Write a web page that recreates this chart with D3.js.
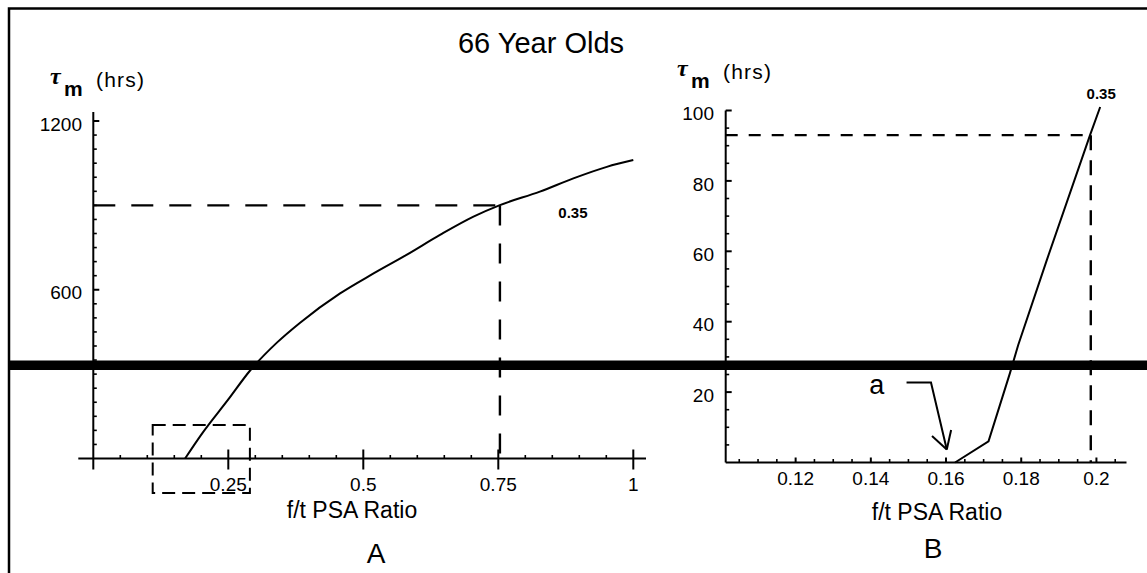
<!DOCTYPE html>
<html>
<head>
<meta charset="utf-8">
<script src="https://cdn.jsdelivr.net/npm/d3@7"></script>
<style>
  html, body { margin: 0; padding: 0; background: #fff; }
  svg { display: block; font-family: "Liberation Sans", Arial, Helvetica, sans-serif; }
</style>
</head>
<body>
<svg id="chart" width="1147" height="573"></svg>
<script>
// Panel A: tau_m (hrs) against f/t PSA ratio, full range
const ratioA = [0.17, 0.2, 0.25, 0.29, 0.34, 0.383, 0.457, 0.519, 0.58, 0.642, 0.704, 0.753, 0.827, 0.889, 0.951, 1.0];
const tauA = [0, 85, 210, 312, 412, 483, 587, 658, 724, 795, 860, 901, 949, 996, 1037, 1061];
const xTicksA = [0.25, 0.5, 0.75, 1];
const xTickLabelsA = ['0.25', '0.5', '0.75', '1'];
const yTicksA = [600, 1200];
const yTickLabelsA = ['600', '1200'];
const refA = [0.753, 900];              // dashed guide (ratio, tau)
const zoomBoxA = [0.11, 0.29, -123, 119]; // ratio0, ratio1, tau0, tau1

// Panel B: close-up of the low end
const ratioB = [0.1624, 0.1713, 0.177, 0.1792, 0.1868, 0.1983, 0.201];
const tauB = [0, 6, 25.4, 33.4, 57.5, 93, 101];
const xTicksB = [0.12, 0.14, 0.16, 0.18, 0.2];
const xTickLabelsB = ['0.12', '0.14', '0.16', '0.18', '0.2'];
const yTicksB = [20, 40, 60, 80, 100];
const yTickLabelsB = ['20', '40', '60', '80', '100'];
const refB = [0.1985, 93];
const arrowB = [[0.1495, 22.7], [0.156, 22.7], [0.1602, 3.7]];
const noteB = [0.1416, 21.8, 'a'];

const pointLabel = '0.35';

const svg = d3.select('#chart');

// scales
const xA = d3.scaleLinear().domain([0, 1]).range([93.3, 633.3]);
const yA = d3.scaleLinear().domain([0, 1200]).range([458.5, 121]);
const xB = d3.scaleLinear().domain([0.1014, 0.208]).range([725.7, 1126.5]);
const yB = d3.scaleLinear().domain([0, 100]).range([462.5, 110.5]);

// frame (only top and left edges show)
svg.append('path')
  .attr('d', 'M9,573V8.5H1147')
  .attr('fill', 'none')
  .attr('stroke', '#000')
  .attr('stroke-width', 2.5);

// title
svg.append('text')
  .attr('x', 541)
  .attr('y', 53)
  .attr('text-anchor', 'middle')
  .attr('font-size', '29px')
  .text('66 Year Olds');

// y label: tau_m (hrs)
function tauLabel(x, yc) {
  const g = svg.append('g');
  g.append('text')
    .attr('x', x).attr('y', yc + 4)
    .attr('font-family', '"Liberation Serif", "Times New Roman", serif')
    .attr('font-style', 'italic').attr('font-weight', 'bold')
    .attr('font-size', '24px')
    .text('\u03C4');
  g.append('text')
    .attr('x', x + 14).attr('y', yc + 16)
    .attr('font-weight', 'bold')
    .attr('font-size', '21px')
    .text('m');
  g.append('text')
    .attr('x', x + 46).attr('y', yc + 7)
    .attr('font-size', '21px')
    .attr('textLength', 48)
    .text('(hrs)');
}
tauLabel(50, 80);
tauLabel(677, 72);

// axes, Mathematica style (ticks point inward, axes overshoot)
function drawAxes(x, y, o) {
  const g = svg.append('g').attr('stroke', '#000');
  const x0 = x.range()[0], y0 = y(0);
  g.append('line').attr('x1', x0 - o.leftOver).attr('x2', o.xEnd)
    .attr('y1', y0).attr('y2', y0).attr('stroke-width', 2);
  g.append('line').attr('x1', x0).attr('x2', x0)
    .attr('y1', y0 + o.downOver).attr('y2', o.yTop).attr('stroke-width', 2);

  // minor ticks
  o.xMinor.forEach(v => {
    g.append('line').attr('x1', x(v)).attr('x2', x(v))
      .attr('y1', y0).attr('y2', y0 - 3.5).attr('stroke-width', 1.6);
  });
  o.yMinor.forEach(v => {
    g.append('line').attr('x1', x0).attr('x2', x0 + 3.5)
      .attr('y1', y(v)).attr('y2', y(v)).attr('stroke-width', 1.6);
  });
  // major ticks
  o.xTicks.forEach(v => {
    g.append('line').attr('x1', x(v)).attr('x2', x(v))
      .attr('y1', y0 - o.xMajUp).attr('y2', y0 + o.xMajDown).attr('stroke-width', 2);
  });
  o.yTicks.forEach(v => {
    g.append('line').attr('x1', x0).attr('x2', x0 + 6)
      .attr('y1', y(v)).attr('y2', y(v)).attr('stroke-width', 2);
  });

  // tick labels
  svg.append('g').selectAll('text').data(o.xTicks).join('text')
    .attr('x', d => x(d))
    .attr('y', y0 + o.xLabOff)
    .attr('text-anchor', 'middle')
    .attr('font-size', o.fs)
    .text((d, i) => o.xLabels[i]);
  svg.append('g').selectAll('text').data(o.yTicks).join('text')
    .attr('x', o.yLabX)
    .attr('y', d => y(d) + 3)
    .attr('dy', '0.35em')
    .attr('text-anchor', 'end')
    .attr('font-size', o.fs)
    .text((d, i) => o.yLabels[i]);
}

const near = (arr, v) => arr.some(t => Math.abs(t - v) < 1e-6);

drawAxes(xA, yA, {
  leftOver: 15, xEnd: 646, downOver: 11, yTop: yA(1232),
  xTicks: xTicksA, xLabels: xTickLabelsA,
  yTicks: yTicksA, yLabels: yTickLabelsA,
  xMinor: d3.range(0.05, 1.001, 0.05).filter(v => !near(xTicksA, +v.toFixed(2))),
  yMinor: d3.range(50, 1201, 50).filter(v => !near(yTicksA, v)),
  xMajUp: 9, xMajDown: 11, xLabOff: 32.5, yLabX: 82, fs: '19px'
});

drawAxes(xB, yB, {
  leftOver: 0, xEnd: 1126.5, downOver: 0, yTop: yB(100),
  xTicks: xTicksB, xLabels: xTickLabelsB,
  yTicks: yTicksB, yLabels: yTickLabelsB,
  xMinor: d3.range(0.105, 0.2076, 0.005).filter(v => !near(xTicksB, +v.toFixed(3))),
  yMinor: d3.range(5, 100, 5).filter(v => !near(yTicksB, v)),
  xMajUp: 5, xMajDown: 0, xLabOff: 22.5, yLabX: 714, fs: '19px'
});

// axis titles and panel letters
svg.append('text').attr('x', 352).attr('y', 518).attr('text-anchor', 'middle')
  .attr('font-size', '23px').text('f/t PSA Ratio');
svg.append('text').attr('x', 937).attr('y', 520).attr('text-anchor', 'middle')
  .attr('font-size', '23px').text('f/t PSA Ratio');
svg.append('text').attr('x', 376).attr('y', 563).attr('text-anchor', 'middle')
  .attr('font-size', '28px').text('A');
svg.append('text').attr('x', 933).attr('y', 558).attr('text-anchor', 'middle')
  .attr('font-size', '28px').text('B');

// dashed guides
const dash = (x1, y1, x2, y2, pattern) => svg.append('line')
  .attr('x1', x1).attr('y1', y1).attr('x2', x2).attr('y2', y2)
  .attr('stroke', '#000').attr('stroke-width', 2.4)
  .attr('stroke-dasharray', pattern);

dash(xA(0), yA(refA[1]), xA(refA[0]), yA(refA[1]), '22,16');
dash(xA(refA[0]), yA(refA[1]), xA(refA[0]), yA(0), '20,18');
dash(xB.range()[0], yB(refB[1]), xB(refB[0]), yB(refB[1]), '12,11');
dash(xB(refB[0]), yB(refB[1]), xB(refB[0]), yB(0), '15,10');

// zoom box in panel A
svg.append('rect')
  .attr('x', xA(zoomBoxA[0]))
  .attr('y', yA(zoomBoxA[3]))
  .attr('width', xA(zoomBoxA[1]) - xA(zoomBoxA[0]))
  .attr('height', yA(zoomBoxA[2]) - yA(zoomBoxA[3]))
  .attr('fill', 'none')
  .attr('stroke', '#000')
  .attr('stroke-width', 2)
  .attr('stroke-dasharray', '13,7');

// curves
const lineA = d3.line()
  .x((d, i) => xA(ratioA[i]))
  .y(d => yA(d))
  .curve(d3.curveMonotoneX);
svg.append('path')
  .datum(tauA)
  .attr('d', lineA)
  .attr('fill', 'none')
  .attr('stroke', '#000')
  .attr('stroke-width', 2);

const lineB = d3.line()
  .x((d, i) => xB(ratioB[i]))
  .y(d => yB(d));
svg.append('path')
  .datum(tauB)
  .attr('d', lineB)
  .attr('fill', 'none')
  .attr('stroke', '#000')
  .attr('stroke-width', 2);

// 0.35 labels
svg.append('text')
  .attr('x', xA(refA[0]) + 73).attr('y', yA(refA[1]) + 13)
  .attr('text-anchor', 'middle')
  .attr('font-size', '15px').attr('font-weight', 'bold')
  .text(pointLabel);
const lastB = ratioB.length - 1;
svg.append('text')
  .attr('x', xB(ratioB[lastB]) + 1).attr('y', yB(tauB[lastB]) - 8)
  .attr('text-anchor', 'middle')
  .attr('font-size', '15px').attr('font-weight', 'bold')
  .text(pointLabel);

// annotation "a" with arrow to the minimum
svg.append('text')
  .attr('x', xB(noteB[0])).attr('y', yB(noteB[1]))
  .attr('dy', '0.3em')
  .attr('text-anchor', 'middle')
  .attr('font-size', '27px')
  .text(noteB[2]);
const arrowPts = arrowB.map(p => [xB(p[0]), yB(p[1])]);
svg.append('path')
  .attr('d', d3.line()(arrowPts))
  .attr('fill', 'none').attr('stroke', '#000').attr('stroke-width', 2);
{
  const [tx, ty] = arrowPts[arrowPts.length - 1];
  const [cx, cy] = arrowPts[arrowPts.length - 2];
  const ang = Math.atan2(cy - ty, cx - tx);
  [-0.6, 0.45].forEach(da => {
    svg.append('line')
      .attr('x1', tx).attr('y1', ty)
      .attr('x2', tx + 20 * Math.cos(ang + da))
      .attr('y2', ty + 20 * Math.sin(ang + da))
      .attr('stroke', '#000').attr('stroke-width', 2);
  });
}

// heavy horizontal band across the scan
svg.append('rect')
  .attr('x', 8).attr('y', 360.5)
  .attr('width', 1139).attr('height', 9.5)
  .attr('fill', '#000');
</script>
</body>
</html>
